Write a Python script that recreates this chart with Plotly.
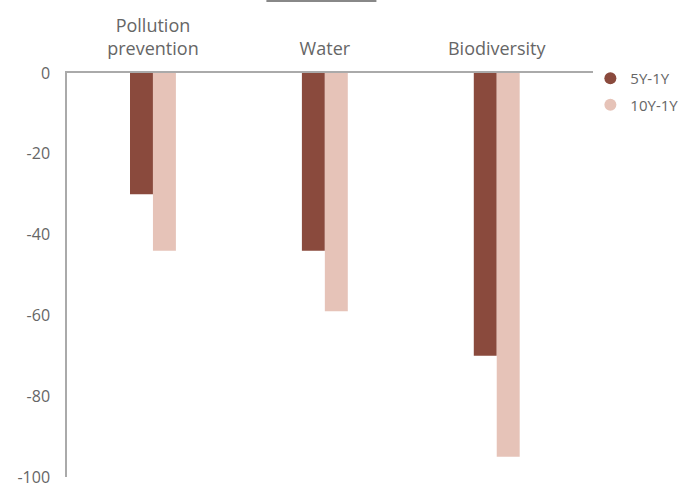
import plotly.graph_objects as go

categories = ["Pollution<br>prevention", "Water", "Biodiversity"]
series_names = ["5Y-1Y", "10Y-1Y"]
values_5y = [-30, -44, -70]
values_10y = [-44, -59, -95]
y_ticks = [0, -20, -40, -60, -80, -100]
y_tick_labels = ["0", "-20", "-40", "-60", "-80", "-100"]

colors = ["#8a4a3d", "#e6c3b8"]
font_family = "'Open Sans', Lato, sans-serif"
text_color = "#666666"

fig = go.Figure()
for name, vals, col in zip(series_names, [values_5y, values_10y], colors):
    fig.add_trace(go.Bar(x=categories, y=vals, name=name, marker_color=col,
                         marker_line_width=0, showlegend=False))
    # legend entry drawn as a round marker
    fig.add_trace(go.Scatter(x=[None], y=[None], mode="markers", name=name,
                             legendgroup=name,
                             marker=dict(symbol="circle", size=15, color=col)))

fig.update_layout(
    width=686, height=485,
    margin=dict(l=67, r=93, t=73, b=8, autoexpand=False),
    plot_bgcolor="white", paper_bgcolor="white",
    barmode="group", bargap=0.733, bargroupgap=0,
    font=dict(family=font_family, size=16, color=text_color),
    legend=dict(x=0.995, y=1.027, xanchor="left", yanchor="top",
                font=dict(size=15, color=text_color), itemsizing="constant",
                tracegroupgap=4, bgcolor="rgba(0,0,0,0)"),
    xaxis=dict(side="top", showline=True, linecolor="#aaaaaa", linewidth=1.5,
               ticks="", showgrid=False, range=[-0.5, 2.56],
               tickfont=dict(size=18, color=text_color),
               ticklabelstandoff=9),
    yaxis=dict(range=[-100, 0], tickvals=y_ticks, ticktext=y_tick_labels,
               showline=True, linecolor="#aaaaaa", linewidth=1.5, ticks="",
               showgrid=False, zeroline=False,
               tickfont=dict(size=16, color=text_color),
               ticklabelstandoff=12, ticklabeloverflow="allow"),
    shapes=[dict(type="line", xref="x", yref="paper", x0=0.66, x1=1.3,
                 y0=1.178, y1=1.178, line=dict(color="#888888", width=2))],
)

fig.write_html("out.html")
